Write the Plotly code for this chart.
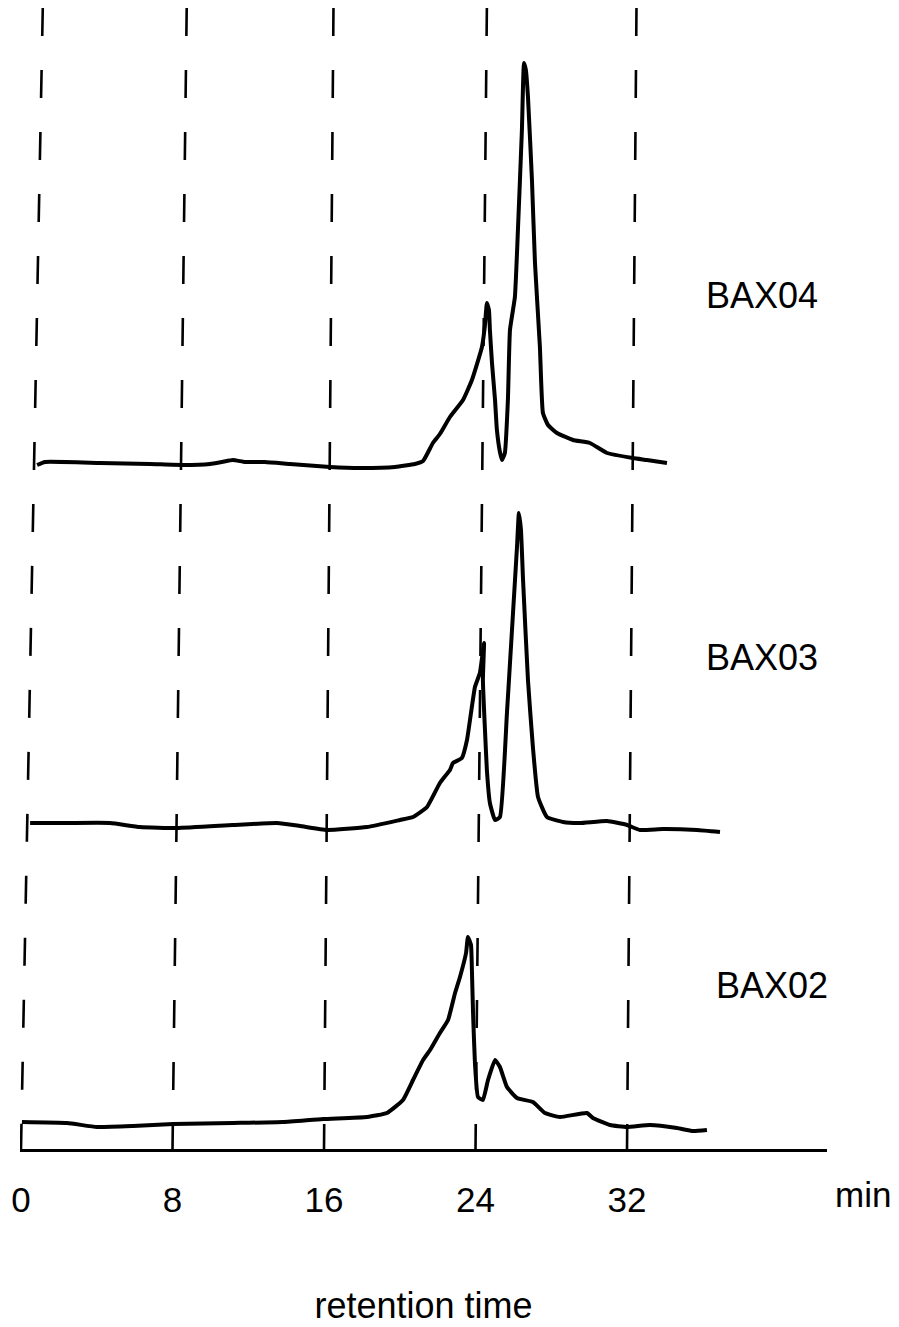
import plotly.graph_objects as go

# ---- data (retention time in min, detector signal in arbitrary units above each trace's baseline)
grid_minutes = [0, 8, 16, 24, 32]
grid_top_shift = [1.15, 0.75, 0.5, 0.6, 0.5]   # scan skew of the hand-drawn guide lines
tick_labels = ["0", "8", "16", "24", "32"]

samples = ["BAX04", "BAX03", "BAX02"]
offsets = [686, 326, 27]

bax04_t = [0.85, 1.27, 4.17, 6.81, 8.55, 9.98, 10.61, 11.19, 11.83, 12.88, 14.20, 16.32,
           17.90, 19.75, 20.80, 21.23, 21.75, 22.12, 22.65, 23.34, 23.81, 24.34, 24.50,
           24.60, 24.71, 24.76, 24.87, 25.03, 25.13, 25.29, 25.40, 25.55, 25.71, 25.82,
           26.08, 26.24, 26.45, 26.56, 26.66, 26.77, 26.98, 27.14, 27.40, 27.56, 27.83,
           28.30, 29.15, 30.04, 30.94, 32.31, 33.05, 34.11]
bax04_s = [-2, 1, 0, -1, -2, -1, 1, 3, 1, 1, -1, -4,
           -5, -4, -1, 2, 20, 29, 46, 63, 83, 116, 138,
           160, 153, 133, 100, 63, 33, 11, 3, 10, 63, 133,
           166, 233, 333, 400, 393, 366, 283, 200, 116, 50, 38,
           30, 23, 20, 10, 5, 3, 0]

bax03_t = [0.48, 2.43, 4.70, 6.28, 8.24, 11.19, 13.52, 14.73, 16.16, 18.27, 20.01, 20.70,
           21.44, 22.12, 22.65, 22.81, 23.28, 23.55, 23.97, 24.23, 24.45, 24.39, 24.50,
           24.60, 24.76, 25.03, 25.29, 25.66, 25.98, 26.19, 26.29, 26.40, 26.51, 26.77,
           27.03, 27.30, 27.77, 28.62, 29.51, 30.94, 32.00, 32.68, 33.90, 35.69, 36.91]
bax03_s = [0, 0, 0, -4, -5, -2, 0, -3, -7, -4, 3, 6,
           16, 40, 53, 60, 65, 83, 136, 150, 180, 143, 93,
           53, 20, 3, 6, 110, 210, 276, 310, 293, 243, 143,
           76, 26, 6, 1, 0, 2, -2, -7, -6, -7, -9]

bax02_t = [0.05, 2.43, 4.01, 5.91, 8.03, 11.19, 13.83, 15.95, 18.27, 19.32, 20.17, 20.70,
           21.23, 21.60, 22.12, 22.55, 22.92, 23.18, 23.50, 23.60, 23.76, 23.81, 23.87,
           23.97, 24.13, 24.39, 24.66, 25.03, 25.29, 25.66, 26.19, 27.03, 27.67, 28.46,
           29.88, 30.20, 31.10, 32.00, 33.21, 34.64, 35.48, 36.22]
bax02_s = [0, -1, -5, -4, -2, -1, 0, 3, 5, 9, 22, 42,
           62, 72, 89, 102, 129, 145, 169, 185, 177, 152, 109,
           59, 25, 22, 42, 62, 55, 35, 24, 20, 9, 5,
           9, 4, -3, -5, -3, -6, -9, -8]

label_t = [39.12, 39.12, 39.65]
label_y = [854, 492, 164]

series_t = [bax04_t, bax03_t, bax02_t]
series_s = [bax04_s, bax03_s, bax02_s]

Y_TOP = 1141
FONT = "Liberation Sans, Arial, Helvetica, sans-serif"

fig = go.Figure()

# dashed guide lines
for g, sh in zip(grid_minutes, grid_top_shift):
    fig.add_trace(go.Scatter(
        x=[g + sh, g], y=[Y_TOP, 0], mode="lines",
        line=dict(color="black", width=2.6, dash="28px,34px"),
        hoverinfo="skip", showlegend=False))

# chromatograms
for name, off, t, s in zip(samples, offsets, series_t, series_s):
    fig.add_trace(go.Scatter(
        x=t, y=[v + off for v in s], mode="lines", name=name,
        line=dict(color="black", width=4, shape="spline", smoothing=0.4),
        showlegend=False))

for name, lt, ly in zip(samples, label_t, label_y):
    fig.add_annotation(x=lt, y=ly, text=name, showarrow=False,
                       xanchor="center", yanchor="middle",
                       font=dict(family=FONT, size=36, color="black"))

fig.add_annotation(xref="paper", yref="paper", x=1.0446, y=-0.0403, text="min",
                   showarrow=False, xanchor="center", yanchor="middle",
                   font=dict(family=FONT, size=35, color="black"))

fig.update_layout(
    width=891, height=1319,
    margin=dict(l=12, r=72, t=0, b=178),
    paper_bgcolor="white", plot_bgcolor="white",
    font=dict(family=FONT, color="black"),
    xaxis=dict(range=[-0.053, 42.56], showgrid=False, zeroline=False,
               showline=True, linecolor="black", linewidth=2.5,
               tickvals=grid_minutes, ticktext=tick_labels, ticks="",
               ticklabelstandoff=18,
               tickfont=dict(family=FONT, size=35, color="black"),
               title=dict(text="retention time", standoff=76,
                          font=dict(family=FONT, size=36, color="black")),
               automargin=False, fixedrange=True),
    yaxis=dict(range=[0, Y_TOP], visible=False, showgrid=False, zeroline=False,
               automargin=False, fixedrange=True),
)

fig.write_html("out.html")
